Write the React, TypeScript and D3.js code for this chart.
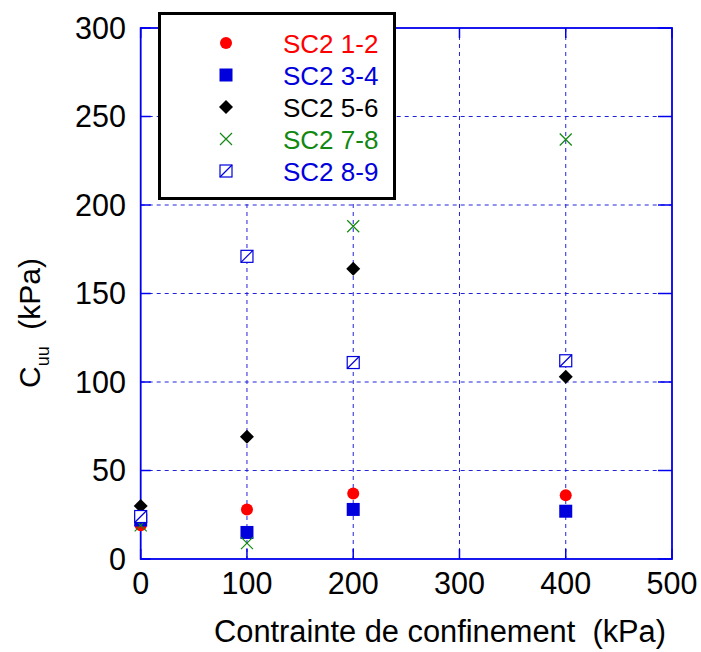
import React from "react";
import * as d3 from "d3";

const xTicks = [0, 100, 200, 300, 400, 500];
const yTicks = [0, 50, 100, 150, 200, 250, 300];

const sc12X = [0, 100, 200, 400];
const sc12Y = [19, 28, 37, 36];
const sc34X = [0, 100, 200, 400];
const sc34Y = [22, 15, 28, 27];
const sc56X = [0, 100, 200, 400];
const sc56Y = [30, 69, 164, 103];
const sc78X = [0, 100, 200, 400];
const sc78Y = [19, 9, 188, 237];
const sc89X = [0, 100, 200, 400];
const sc89Y = [24, 171, 111, 112];

const seriesNames = ["SC2 1-2", "SC2 3-4", "SC2 5-6", "SC2 7-8", "SC2 8-9"];
const seriesColors = ["#ff0000", "#0000dd", "#000000", "#118811", "#0000dd"];

const W = 701, H = 652;
const L = 140.7, R = 672, T = 28, B = 559;

function Marker({ kind, x, y, color }: { kind: number; x: number; y: number; color: string }) {
  if (kind === 0) return <circle cx={x} cy={y} r={6} fill={color} />;
  if (kind === 1) return <rect x={x - 6.5} y={y - 6.5} width={13} height={13} fill={color} />;
  if (kind === 2)
    return <path d={`M${x},${y - 7}L${x + 7},${y}L${x},${y + 7}L${x - 7},${y}Z`} fill={color} />;
  if (kind === 3)
    return (
      <path d={`M${x - 6},${y - 6}L${x + 6},${y + 6}M${x + 6},${y - 6}L${x - 6},${y + 6}`} stroke={color} strokeWidth={1.2} fill="none" />
    );
  return (
    <g>
      <rect x={x - 6} y={y - 6} width={12} height={12} fill="white" stroke={color} strokeWidth={1.2} />
      <line x1={x - 6} y1={y + 6} x2={x + 6} y2={y - 6} stroke={color} strokeWidth={1.2} />
    </g>
  );
}

export default function App() {
  const xs = d3.scaleLinear().domain([0, 500]).range([L, R]);
  const ys = d3.scaleLinear().domain([0, 300]).range([B, T]);
  const data = [
    [sc12X, sc12Y],
    [sc34X, sc34Y],
    [sc56X, sc56Y],
    [sc78X, sc78Y],
    [sc89X, sc89Y],
  ];
  const font = "'Liberation Sans', Arial, sans-serif";
  const grid = "#2222dd";
  const axis = "#0000ee";
  return (
    <svg width={W} height={H} style={{ position: "absolute", left: 0, top: 0 }} fontFamily={font}>
      <rect width={W} height={H} fill="white" />
      {xTicks.slice(1, -1).map((t) => (
        <line key={"gx" + t} x1={xs(t)} x2={xs(t)} y1={T} y2={B} stroke={grid} strokeDasharray="4,4" strokeWidth={1} />
      ))}
      {yTicks.slice(1, -1).map((t) => (
        <line key={"gy" + t} x1={L} x2={R} y1={ys(t)} y2={ys(t)} stroke={grid} strokeDasharray="4,4" strokeWidth={1} />
      ))}
      <rect x={L} y={T} width={R - L} height={B - T} fill="none" stroke={axis} strokeWidth={1.8} />
      {xTicks.map((t) => (
        <g key={"tx" + t}>
          <line x1={xs(t)} x2={xs(t)} y1={B} y2={B - 10} stroke={axis} strokeWidth={1.5} />
          <line x1={xs(t)} x2={xs(t)} y1={T} y2={T + 10} stroke={axis} strokeWidth={1.5} />
          <text x={xs(t)} y={594} textAnchor="middle" fontSize={30.5}>{t}</text>
        </g>
      ))}
      {yTicks.map((t) => (
        <g key={"ty" + t}>
          <line x1={L} x2={L + 10} y1={ys(t)} y2={ys(t)} stroke={axis} strokeWidth={1.5} />
          <line x1={R} x2={R - 14} y1={ys(t)} y2={ys(t)} stroke={axis} strokeWidth={1.5} />
          <text x={126} y={ys(t) + 10.5} textAnchor="end" fontSize={30.5}>{t}</text>
        </g>
      ))}
      {data.map(([dx, dy], k) =>
        dx.map((v, i) => <Marker key={k + "-" + i} kind={k} x={xs(v)} y={ys(dy[i])} color={seriesColors[k]} />)
      )}
      <rect x={159.5} y={13.5} width={235} height={185} fill="white" stroke="black" strokeWidth={3} />
      {seriesNames.map((n, k) => {
        const y = 43 + k * 32;
        return (
          <g key={n}>
            <Marker kind={k} x={226} y={y} color={seriesColors[k]} />
            <text x={283} y={y + 9.5} fontSize={26} fill={seriesColors[k]}>{n}</text>
          </g>
        );
      })}
      <text x={440} y={642} textAnchor="middle" fontSize={30.8} style={{ whiteSpace: "pre" }}>Contrainte de confinement  (kPa)</text>
      <text transform="translate(40,388) rotate(-90)" fontSize={30} style={{ whiteSpace: "pre" }}>
        C<tspan fontSize={18} dy={9}>uu</tspan><tspan dy={-9}>  (kPa)</tspan>
      </text>
    </svg>
  );
}
